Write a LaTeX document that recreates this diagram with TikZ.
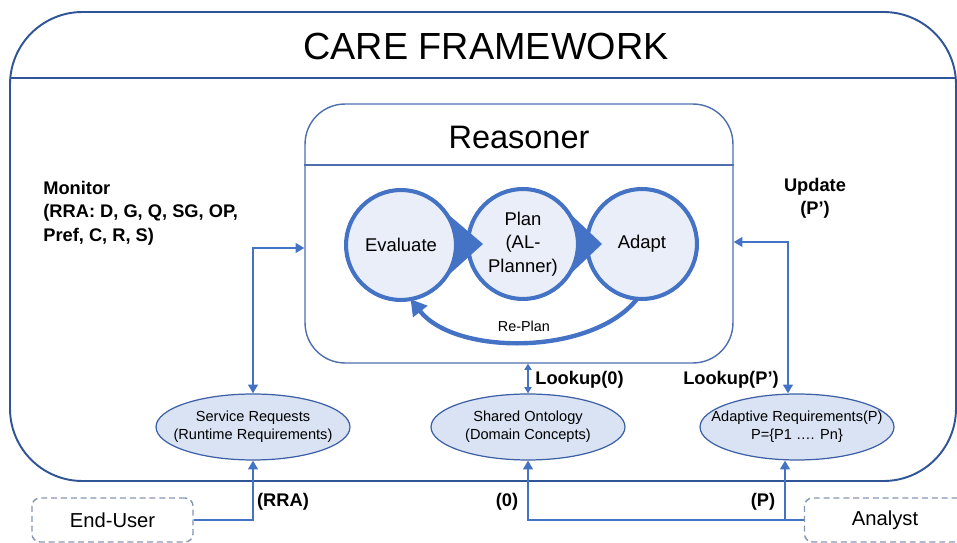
\documentclass[tikz,border=0pt]{standalone}
\usepackage{fontspec}
\setmainfont{Liberation Sans}
\usetikzlibrary{shapes.geometric,arrows.meta}

\definecolor{frameblue}{RGB}{47,85,151}
\definecolor{boxblue}{RGB}{79,110,175}
\definecolor{arrowblue}{RGB}{68,114,196}
\definecolor{ellblue}{RGB}{60,95,165}
\definecolor{ellfill}{RGB}{218,227,243}
\definecolor{circfill}{RGB}{233,238,248}
\definecolor{dashgray}{RGB}{132,151,176}

\begin{document}
\begin{tikzpicture}[x=0.02cm, y=-0.02cm,
  >={Triangle[length=5pt,width=5.5pt]},
  frame/.style={draw=frameblue, line width=1.1pt},
  box/.style={draw=boxblue, line width=0.8pt},
  stage/.style={circle, draw=arrowblue, line width=2.3pt, fill=circfill, minimum size=2.2cm, inner sep=0pt, outer sep=0pt, align=center, font=\fontsize{10.5}{13.5}\selectfont},
  store/.style={ellipse, draw=ellblue, line width=0.7pt, fill=ellfill, minimum width=3.88cm, minimum height=1.32cm, inner sep=0pt},
  storetext/.style={align=center, font=\fontsize{8.3}{10.2}\selectfont},
  actor/.style={rectangle, rounded corners=0.16cm, draw=dashgray, line width=0.8pt, dash pattern=on 3.4pt off 2.2pt, minimum width=3.22cm, minimum height=0.88cm, font=\fontsize{11.5}{14}\selectfont},
  conn/.style={draw=arrowblue, line width=1.6pt},
  tag/.style={font=\bfseries\fontsize{10.4}{13.3}\selectfont, align=center, inner sep=0pt},
]
\useasboundingbox (0,0) rectangle (957,543);
\draw[frame, rounded corners=1.45cm] (10,12) rectangle (956,481);
\draw[frame] (10,78) -- (956,78);
\node[font=\fontsize{21.5}{26}\selectfont] (f0) at (486,47) {CARE FRAMEWORK};

% reasoner
\node[box, rounded corners=0.8cm, minimum width=8.56cm, minimum height=5.18cm, inner sep=0pt] (r0) at (519,233.5) {};
\draw[box] (r0.west |- 0,165) -- (r0.east |- 0,165);
\node[font=\fontsize{18.5}{22}\selectfont] (r1) at (519,137) {Reasoner};

\node[stage] (c1) at (401,245) {Evaluate};
\node[stage] (c2) at (523,244) {Plan\\(AL-\\Planner)};
\node[stage] (c3) at (642,244) {Adapt};
\fill[arrowblue] (c1.38) arc[start angle=38, end angle=-38, radius=1.1cm] -- ([xshift=0.3cm]c2.west) -- cycle;
\fill[arrowblue] (c2.38) arc[start angle=38, end angle=-38, radius=1.1cm] -- ([xshift=0.3cm]c3.west) -- cycle;
\draw[arrowblue, line width=2.5pt, -{Triangle[length=9pt,width=10pt]}] (c3.-95) .. controls +(-45,57) and +(45,57) .. (c1.-80)
  node[pos=0.5, above=1pt, text=black, font=\fontsize{8.2}{10}\selectfont] (l0) {Re-Plan};

% stores
\node[store, label={[storetext]center:{Service Requests\\(Runtime Requirements)}}] (s1) at (253,427) {};
\node[store, label={[storetext]center:{Shared Ontology\\(Domain Concepts)}}] (s2) at (528,427) {};
\node[store, label={[storetext]center:{Adaptive Requirements(P)\\P=\{P1 …. Pn\}}}] (s3) at (797,427) {};

\node[actor] (u1) at (112.5,520) {End-User};
\node[actor] (u2) at (885,520) {Analyst};

\draw[conn,<->] ([yshift=-0.29cm]r0.west) -| (s1.north);
\draw[conn,<->] ([yshift=-0.17cm]r0.east) -| ([xshift=-0.18cm]s3.north);
\draw[arrowblue, line width=0.9pt, <->, >={Triangle[length=3.5pt,width=4pt]}] (s2.north) -- (s2.north |- r0.south);
\draw[conn,->] (u1.east) -| (s1.south);
\draw[conn,->] (u2.west) -| (s2.south);
\draw[conn,->] (u2.west) -| ([xshift=-0.24cm]s3.south);

% labels
\node[tag, align=left, anchor=west] (l1) at (43,213) {Monitor\\(RRA: D, G, Q, SG, OP,\\Pref, C, R, S)};
\node[tag] (l2) at (815,198) {Update\\(P’)};
\node[tag, anchor=east] (l3) at (779,380) {Lookup(P’)};
\node[tag, anchor=west] (l4) at (535,380) {Lookup(0)};
\node[tag] (l5) at (283,502) {(RRA)};
\node[tag] (l6) at (507,502) {(0)};
\node[tag] (l7) at (763,502) {(P)};
\end{tikzpicture}
\end{document}
